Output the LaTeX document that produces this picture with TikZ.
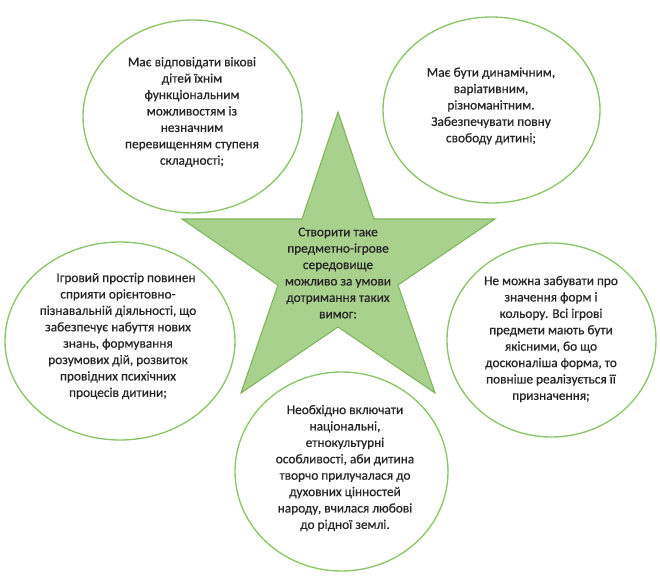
\documentclass[tikz,border=0pt]{standalone}
\usepackage{fontspec}
\setmainfont{Carlito}[FakeBold=0.6]
\usetikzlibrary{shapes.geometric}
\definecolor{starfill}{HTML}{A9D18E}
\definecolor{starline}{HTML}{7DB65A}
\definecolor{ringline}{HTML}{8CC46A}
\definecolor{txt}{HTML}{262626}
\tikzset{
  ring/.style={ellipse, draw=ringline, line width=1pt, inner sep=0pt},
  lbl/.style={align=center, text=txt, inner sep=0pt, font=\fontsize{10}{12.3}\selectfont}
}
\begin{document}
\begin{tikzpicture}[x=0.75pt,y=-0.75pt]
\useasboundingbox (0,0) rectangle (660,577);
% star
\coordinate (s1) at (338,112);
\coordinate (s2) at (374,219);
\coordinate (s3) at (495,219);
\coordinate (s4) at (398,285);
\coordinate (s5) at (435,393);
\coordinate (s6) at (338,327);
\coordinate (s7) at (241,393);
\coordinate (s8) at (278,285);
\coordinate (s9) at (182,219);
\coordinate (s10) at (302,219);
\draw[fill=starfill, draw=starline, line width=0.8pt, line join=miter]
  (s1) -- (s2) -- (s3) -- (s4) -- (s5) -- (s6) -- (s7) -- (s8) -- (s9) -- (s10) -- cycle;
\node[lbl] (st) at (338,273) {Створити таке\\предметно-ігрове\\середовище\\можливо за умови\\дотримання таких\\вимог:};
% ellipses
\node[ring, minimum width=164.25pt, minimum height=144.75pt] (e1) at (192.5,116.5) {};
\node[ring, minimum width=162.75pt, minimum height=139.5pt] (e2) at (491.5,110) {};
\node[ring, minimum width=172.5pt, minimum height=148.5pt] (e3) at (120,341) {};
\node[ring, minimum width=156.75pt, minimum height=145.5pt] (e4) at (551.5,340) {};
\node[ring, minimum width=159.75pt, minimum height=149.25pt] (e5) at (341.5,471.5) {};
% texts
\node[lbl] (t1) at (192,112) {Має відповідати вікові\\дітей їхнім\\функціональним\\можливостям із\\незначним\\перевищенням ступеня\\складності;};
\node[lbl] (t2) at (491,106) {Має бути динамічним,\\варіативним,\\різноманітним.\\Забезпечувати повну\\свободу дитині;};
\node[lbl] (t3) at (118,336) {\hspace*{1.2em}Ігровий простір повинен\\сприяти орієнтовно-\\пізнавальній діяльності, що\\забезпечує набуття нових\\знань, формування\\розумових дій, розвиток\\провідних психічних\\процесів дитини;};
\node[lbl] (t4) at (551,339) {Не можна забувати про\\значення форм і\\кольору. Всі ігрові\\предмети мають бути\\якісними, бо що\\досконаліша форма, то\\повніше реалізується її\\призначення;};
\node[lbl] (t5) at (345,468) {Необхідно включати\\національні,\\етнокультурні\\особливості, аби дитина\\творчо прилучалася до\\духовних цінностей\\народу, вчилася любові\\до рідної землі.};
\end{tikzpicture}
\end{document}
